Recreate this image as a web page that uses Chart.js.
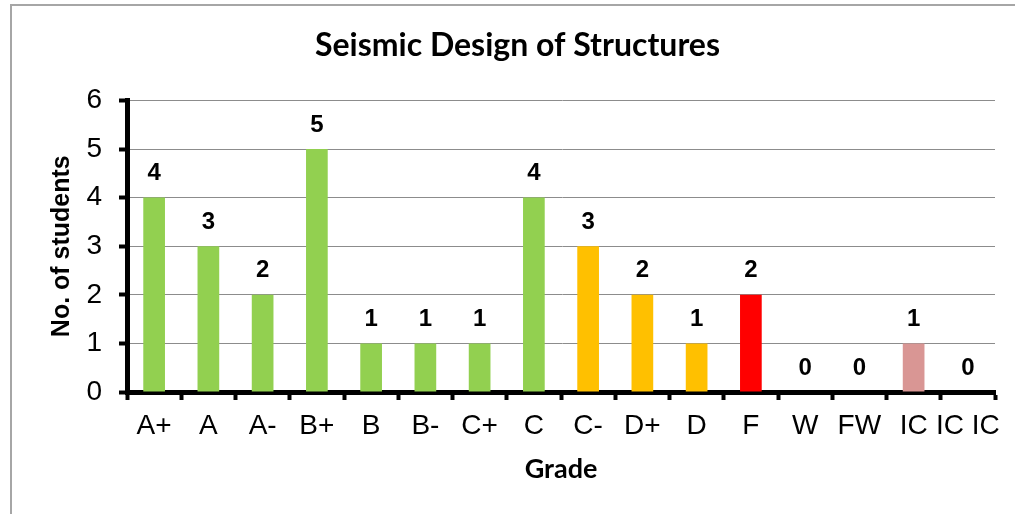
<!DOCTYPE html>
<html>
<head>
<meta charset="utf-8">
<script src="https://cdn.jsdelivr.net/npm/chart.js@4"></script>
<style>
  html, body { margin: 0; padding: 0; background: #fff; }
  #frame {
    position: absolute; left: 10px; top: 4px; width: 1020px; height: 530px;
    border: 2px solid #a6a6a6; box-sizing: border-box;
  }
  #wrap { position: absolute; left: 0; top: 0; width: 1015px; height: 514px; }
</style>
</head>
<body>
<div id="frame"></div>
<div id="wrap"><canvas id="myChart" width="1015" height="514"></canvas></div>
<script>
// * data
const grades = ["A+", "A", "A-", "B+", "B", "B-", "C+", "C", "C-", "D+", "D", "F", "W", "FW", "IC", "IC IC"];
const students = [4, 3, 2, 5, 1, 1, 1, 4, 3, 2, 1, 2, 0, 0, 1, 0];
const yTicks = [0, 1, 2, 3, 4, 5, 6];

// bar colours per grade
const barColors = [
  "#92d050", "#92d050", "#92d050", "#92d050", "#92d050", "#92d050", "#92d050", "#92d050",
  "#ffc000", "#ffc000", "#ffc000", "#ff0000", "#92d050", "#92d050", "#d99694", "#92d050",
];

// * value labels above bars
const valueLabels = {
  id: "valueLabels",
  afterDatasetsDraw(chart) {
    const ctx = chart.ctx;
    const meta = chart.getDatasetMeta(0);
    ctx.save();
    ctx.font = "bold 24px 'Liberation Sans', Arial, sans-serif";
    ctx.fillStyle = "#000";
    ctx.textAlign = "center";
    ctx.textBaseline = "middle";
    meta.data.forEach((bar, i) => {
      ctx.fillText(String(students[i]), bar.x, bar.y - 24);
    });
    ctx.restore();
  },
};

const config = {
  type: "bar",
  data: {
    labels: grades,
    datasets: [
      {
        label: "No. of students",
        data: students,
        backgroundColor: barColors,
        categoryPercentage: 1,
        barPercentage: 0.4,
      },
    ],
  },
  options: {
    responsive: false,
    animation: false,
    layout: { padding: { left: 40, right: 20, top: 18, bottom: 25 } },
    plugins: {
      legend: { display: false },
      tooltip: { enabled: false },
      title: {
        display: true,
        text: "Seismic Design of Structures",
        color: "#000",
        font: { family: "Lato", size: 32, weight: "bold" },
        padding: { top: 8, bottom: 36 },
      },
    },
    scales: {
      x: {
        grid: {
          offset: true,
          drawOnChartArea: false,
          drawTicks: true,
          tickLength: 8,
          tickColor: "#000",
          tickWidth: 4,
        },
        border: { color: "#000", width: 5 },
        ticks: {
          color: "#000",
          font: { family: "'Liberation Sans', Arial", size: 28 },
          maxRotation: 0,
          autoSkip: false,
          padding: 9,
        },
        title: {
          display: true,
          text: "Grade",
          color: "#000",
          font: { family: "Lato", size: 27, weight: "bold" },
          padding: { top: 0, bottom: 4 },
        },
        afterFit(scale) { scale.height = 97; },
      },
      y: {
        min: 0,
        max: 6,
        afterBuildTicks(scale) { scale.ticks = yTicks.map((v) => ({ value: v })); },
        grid: {
          color: "#8c8c8c",
          lineWidth: 1,
          tickLength: 8,
          tickColor: "#000",
          tickWidth: 4,
        },
        border: { color: "#000", width: 5 },
        ticks: {
          color: "#000",
          font: { family: "'Liberation Sans', Arial", size: 28 },
          padding: 17,
        },
        title: {
          display: true,
          text: "No. of students",
          color: "#000",
          font: { family: "'Liberation Sans', Arial", size: 25, weight: "bold" },
          padding: { top: 7, bottom: 0 },
        },
        afterFit(scale) { scale.width = 87; },
      },
    },
  },
  plugins: [valueLabels],
};

let chart = new Chart("myChart", config);
</script>
</body>
</html>
